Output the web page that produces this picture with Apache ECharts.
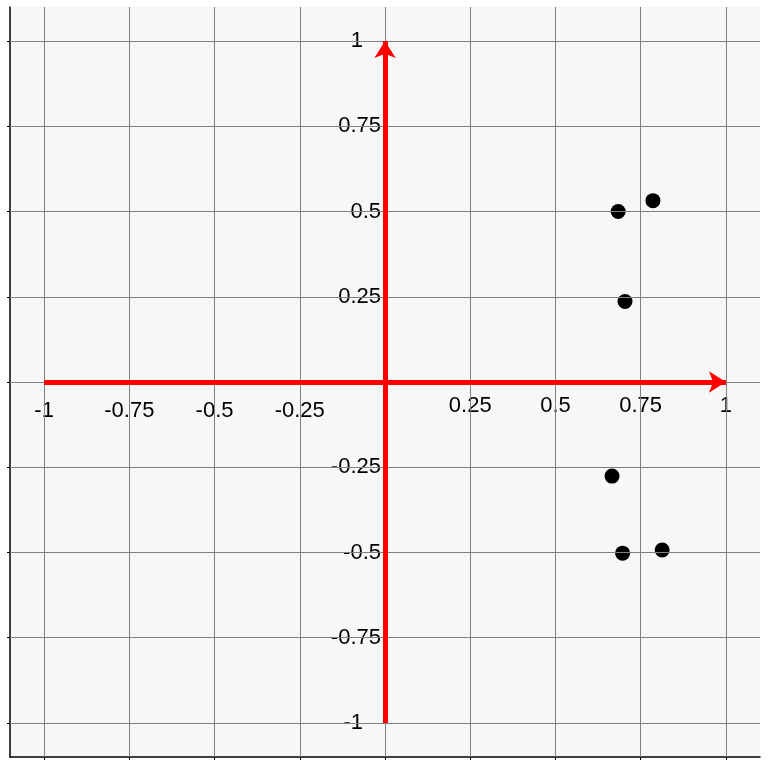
<!DOCTYPE html>
<html>
<head>
<meta charset="utf-8">
<script src="https://cdn.jsdelivr.net/npm/echarts@6/dist/echarts.min.js"></script>
<style>
html, body { margin: 0; padding: 0; background: #ffffff; }
#chart { width: 768px; height: 768px; }
</style>
</head>
<body>
<div id="chart"></div>
<script>
// ---- data ----
const pointX = [0.684, 0.786, 0.704, 0.666, 0.697, 0.813];
const pointY = [0.500, 0.532, 0.236, -0.276, -0.502, -0.493];
const gridValues = [-1, -0.75, -0.5, -0.25, 0, 0.25, 0.5, 0.75, 1];
const xTickLabels = [-1, -0.75, -0.5, -0.25, 0.25, 0.5, 0.75, 1];
const yTickLabels = [-1, -0.75, -0.5, -0.25, 0.25, 0.5, 0.75, 1];
const axisMin = -1.1;
const axisMax = 1.1;
const redAxisX = [[-1, 0], [1, 0]];
const redAxisY = [[0, -1], [0, 1]];

const FONT = 'Liberation Sans, Arial, sans-serif';
const chart = echarts.init(document.getElementById('chart'), null, { renderer: 'canvas' });

const points = pointX.map((x, i) => [x, pointY[i]]);

const labelBase = { fontSize: 22, fontFamily: FONT, color: '#000' };

const option = {
  animation: false,
  backgroundColor: '#ffffff',
  grid: {
    left: 10, right: 8, top: 7, bottom: 11,
    show: true, backgroundColor: '#f7f7f7', borderWidth: 0,
    containLabel: false, outerBoundsMode: 'none'
  },
  xAxis: {
    type: 'value', min: axisMin, max: axisMax, position: 'bottom',
    axisLine: { show: true, onZero: false, lineStyle: { color: '#000', width: 1.5 } },
    axisTick: { show: true, customValues: gridValues, length: 3, lineStyle: { color: '#000', width: 1 } },
    splitLine: { show: false },
    axisLabel: Object.assign({
      margin: -362, customValues: xTickLabels,
      formatter: v => (v < 0 ? '{n|' + v + '}' : String(v)),
      rich: { n: Object.assign({ padding: [5, 0, 0, 0] }, labelBase) }
    }, labelBase)
  },
  yAxis: {
    type: 'value', min: axisMin, max: axisMax, position: 'left',
    axisLine: { show: true, onZero: false, lineStyle: { color: '#000', width: 1.5 } },
    axisTick: { show: true, customValues: gridValues, length: 3, lineStyle: { color: '#000', width: 1 } },
    splitLine: { show: false },
    axisLabel: Object.assign({
      margin: -371, customValues: yTickLabels,
      formatter: v => (Math.abs(v) === 1 ? '{e|' + v + '}' : String(v)),
      rich: { e: Object.assign({ padding: [0, 18, 0, 0] }, labelBase) }
    }, labelBase)
  },
  series: [
    {
      type: 'scatter', data: [], z: 1, silent: true,
      markLine: {
        silent: true, symbol: 'none', animation: false,
        label: { show: false },
        lineStyle: { color: '#808080', width: 1, type: 'solid' },
        emphasis: { disabled: true },
        data: gridValues.map(v => ({ xAxis: v })).concat(gridValues.map(v => ({ yAxis: v })))
      }
    },
    {
      type: 'scatter', data: [], z: 2, silent: true,
      markLine: {
        silent: true, symbol: ['none', 'arrow'], symbolSize: [16, 17], animation: false,
        label: { show: false },
        lineStyle: { color: '#ff0000', width: 5, type: 'solid' },
        emphasis: { disabled: true },
        data: [
          [{ coord: redAxisX[0] }, { coord: redAxisX[1] }],
          [{ coord: redAxisY[0] }, { coord: redAxisY[1] }]
        ]
      }
    },
    {
      type: 'scatter', z: 3,
      symbol: 'circle', symbolSize: 15,
      itemStyle: { color: '#000000', opacity: 1 },
      data: points
    }
  ]
};
chart.setOption(option);
</script>
</body>
</html>
